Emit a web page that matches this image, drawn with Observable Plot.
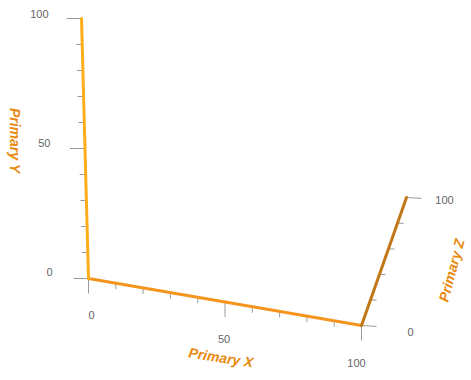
<!DOCTYPE html>
<html><head><meta charset="utf-8">
<script src="https://cdn.jsdelivr.net/npm/d3@7"></script>
<script src="https://cdn.jsdelivr.net/npm/@observablehq/plot@0.6"></script>
<style>body{margin:0;background:#fff;}</style>
</head><body><div id="chart"></div>
<script>
// ---- data ----
const axisNames = ["x", "y", "z"];
const axisTitles = ["Primary X", "Primary Y", "Primary Z"];
const axisDomain = [0, 100];
const xyMinorTicks = [0, 10, 20, 30, 40, 50, 60, 70, 80, 90, 100];
const xyMajorTicks = [0, 50, 100];
const zMinorTicks = [0, 20, 40, 60, 80, 100];
const zMajorTicks = [0, 100];
const xTickLabels = ["0", "50", "100"];
const yTickLabels = ["0", "50", "100"];
const zTickLabels = ["0", "100"];

// ---- view (projection of the 3D box onto the page) ----
const W = 471, H = 380;
const origin = [88, 278];
const basis = {x: [273, 47], y: [-7, -260], z: [45, -128]};
const axisColor = {x: "#F7941E", y: "#FFAE1A", z: "#C27818"};
const tickDir = {x: [0, 1], y: [-1, 0], z: [1, 0.06]};
const minorOf = {x: xyMinorTicks, y: xyMinorTicks, z: zMinorTicks};
const majorOf = {x: xyMajorTicks, y: xyMajorTicks, z: zMajorTicks};
const tickText = {x: xTickLabels, y: yTickLabels, z: zTickLabels};
// label offset at start / end of axis (perspective), anchor
const labelOff = {x: [[3, 37], [-5, 38], "middle"], y: [[-36, -6], [-33, -4], "end"], z: [[49, 7], [38, 3], "middle"]};
const titleOff = {x: [-4, 56, 9], y: [-71, -8, 90], z: [68, 9, -75]};

const t = v => (v - axisDomain[0]) / (axisDomain[1] - axisDomain[0]);
function point3(axis, v) {
  if (axis === "x") return [t(v), 0, 0];
  if (axis === "y") return [0, t(v), 0];
  return [1, 0, t(v)];
}
function project(p) {
  return [
    origin[0] + p[0] * basis.x[0] + p[1] * basis.y[0] + p[2] * basis.z[0],
    origin[1] + p[0] * basis.x[1] + p[1] * basis.y[1] + p[2] * basis.z[1]
  ];
}

const axes = axisNames.map(a => {
  const [x1, y1] = project(point3(a, axisDomain[0]));
  const [x2, y2] = project(point3(a, axisDomain[1]));
  return {axis: a, x1, y1, x2, y2, color: axisColor[a]};
});

const ticks = [];
axisNames.forEach(a => {
  minorOf[a].forEach(v => {
    const major = majorOf[a].includes(v);
    const len = major ? 15 : 6;
    const [x1, y1] = project(point3(a, v));
    ticks.push({axis: a, v, x1, y1, x2: x1 + tickDir[a][0] * len, y2: y1 + tickDir[a][1] * len});
  });
});

const labels = [];
axisNames.forEach(a => {
  majorOf[a].forEach((v, i) => {
    const text = tickText[a][i];
    if (!text) return;
    const [x, y] = project(point3(a, v));
    const [o0, o1, anchor] = labelOff[a];
    const f = t(v);
    labels.push({
      x: x + o0[0] + (o1[0] - o0[0]) * f,
      y: y + o0[1] + (o1[1] - o0[1]) * f,
      anchor, text
    });
  });
});

const titles = axisNames.map((a, i) => {
  const mid = (axisDomain[0] + axisDomain[1]) / 2;
  const [x, y] = project(point3(a, mid));
  return {x: x + titleOff[a][0], y: y + titleOff[a][1], rotate: titleOff[a][2], text: axisTitles[i]};
});

const chart = Plot.plot({
  width: W, height: H,
  margin: 0,
  style: {background: "#fff", fontFamily: "Liberation Sans, Arial, sans-serif"},
  x: {type: "linear", domain: [0, W], range: [0, W], axis: null},
  y: {type: "linear", domain: [0, H], range: [0, H], axis: null},
  marks: [
    Plot.link(ticks, {x1: "x1", y1: "y1", x2: "x2", y2: "y2", stroke: "#9a9a9a", strokeWidth: 1}),
    Plot.link(axes, {x1: "x1", y1: "y1", x2: "x2", y2: "y2", stroke: d => d.color, strokeWidth: 3, strokeLinecap: "round"}),
    Plot.text(labels.filter(d => d.anchor === "end"), {x: "x", y: "y", text: "text", textAnchor: "end", fill: "#666", fontSize: 11}),
    Plot.text(labels.filter(d => d.anchor === "middle"), {x: "x", y: "y", text: "text", textAnchor: "middle", fill: "#666", fontSize: 11}),
    Plot.text(titles, {x: "x", y: "y", text: "text", rotate: "rotate", fill: "#E8890E", fontSize: 14, fontWeight: "bold", fontStyle: "italic"})
  ]
});
document.getElementById("chart").append(chart);
</script>
</body></html>
